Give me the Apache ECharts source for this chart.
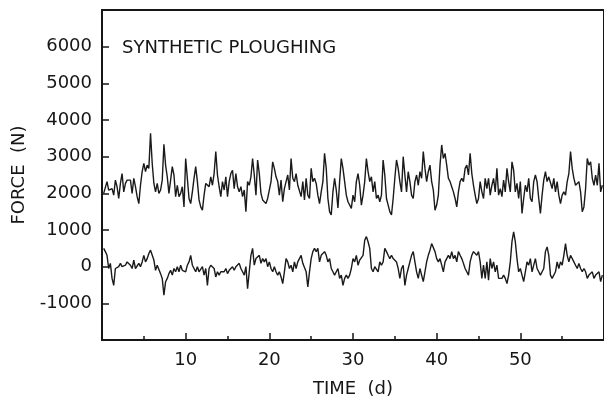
<!DOCTYPE html>
<html><head><meta charset="utf-8">
<script src="https://cdn.jsdelivr.net/npm/echarts@6/dist/echarts.min.js"></script>
<style>html,body{margin:0;padding:0;background:#fff}#c{width:604px;height:406px}</style>
</head><body><div id="c"></div>
<script>
const chartTitle = 'SYNTHETIC PLOUGHING';
const xName = 'TIME  (d)';
const yName = 'FORCE  (N)';
const firstDay = 0.2, dayStep = 0.2;
const upperForce = [
 2000,1950,2320,2090,2090,2130,1950,2360,2180,1860,2270,2540,2040,2270,2360,2320,2360,2000,2410,2180,1910,1720,2220,2590,2820,2590,2770,2680,3640,2820,2270,2040,2270,2000,2090,2360,3340,2770,2450,2000,2360,2730,2500,1910,2220,1910,2000,2180,1630,2950,2410,1860,1720,2040,2410,2730,2320,1820,
 1630,1540,1950,2270,2220,2180,2450,2220,2540,3140,2500,2180,1910,2320,2090,2450,1910,2320,2540,2630,2130,2540,2180,2040,2180,1910,2090,1500,2320,2220,2450,2950,2500,1950,2910,2540,2000,1820,1860,1720,1860,1910,2320,2860,2680,2450,2320,1950,2360,1770,2130,2320,2500,2090,2950,2410,2320,2540,2220,
 2220,1910,2320,1820,2410,1950,1860,2680,2320,2410,2270,1950,1720,2040,2320,3090,2680,1860,1500,1410,2040,2410,2090,1600,2320,2950,2680,2320,1950,1770,1770,1590,1950,1770,2320,2540,2220,1680,1950,2320,2950,2590,2320,2450,2040,2320,1860,1950,1770,1950,2910,2500,1860,1680,1500,1410,1860,2410,2910,2680,
 2320,2040,3000,2500,2040,2590,2320,1950,1860,2320,2500,2220,2590,2410,3140,2680,2320,2590,2770,2320,2090,1540,1680,1950,2770,3320,2950,3090,2770,2410,2320,2180,2040,1860,1630,2040,2320,2410,2320,2680,2770,2500,3090,2540,2220,1950,1720,1860,2320,2040,1860,2410,2130,2410,1950,2220,2410,2040,2680,
 1950,2130,1910,2360,2040,2680,2320,2040,2860,2630,2040,2270,1860,2320,1450,1860,2220,2040,2410,1860,1770,2320,2500,2320,1860,1450,1950,2360,2590,2320,2450,2500,2130,2410,2040,2320,1950,1720,1950,2040,1950,2320,2540,3140,2680,2410,2220,2180,2320,2040,1500,1630,2130,2950,2770,2860,2410,2220,2500,2220,2820,2040,2220
];
const lowerForce = [
 500,410,310,-50,90,-320,-510,-50,-100,0,90,0,40,40,130,180,40,-50,180,-50,-100,90,0,130,310,130,220,360,450,410,180,-100,40,40,-190,-320,-780,-410,-320,-190,-100,-230,-50,-140,0,-140,40,-100,-50,-140,40,130,310,40,-50,-140,0,-140,
 -140,0,-230,-50,-510,-50,40,0,-50,-280,-140,-230,-140,-190,-140,-50,-190,-100,-140,0,-100,0,-50,90,-50,-140,-230,0,-600,-140,310,500,40,220,220,310,90,220,130,220,0,130,-50,-140,0,-140,-230,-140,-280,-460,-140,220,130,-50,40,-140,130,-50,130,
 220,310,90,130,-140,-550,-140,220,410,500,410,500,130,310,310,410,310,130,220,-50,-140,-230,-140,-50,-320,-230,-510,-320,-230,-320,-230,-50,220,130,310,40,180,130,310,720,820,680,500,-50,-140,0,40,-140,130,40,130,500,410,310,220,310,220,220,130,-50,
 -320,-50,40,-510,-230,-50,130,310,410,130,-140,-320,-50,-230,-410,-140,130,310,450,630,590,410,220,130,220,40,-140,130,220,310,220,410,220,310,130,410,310,220,90,-50,-140,-230,130,310,410,450,310,410,130,-320,40,-320,130,-370,220,-50,130,-140,40,
 -320,-280,-320,-230,-320,-460,-230,130,680,950,680,220,-140,-50,-230,-410,-140,130,40,220,-140,40,220,-50,-140,-230,-140,-50,410,540,310,-230,-320,-370,-140,130,-50,130,40,310,630,310,130,310,360,130,40,-50,90,-50,-140,-50,-140,-320,-230,-280,-140,-320,-230,-230,-140,-410,-230
];
const days = upperForce.map((_, i) => +(firstDay + i * dayStep).toFixed(1));

const font = 'DejaVu Sans';
const ink = '#161616';
const plain = v => String(v);
const chart = echarts.init(document.getElementById('c'), null, {renderer: 'canvas'});
chart.setOption({
  animation: false,
  backgroundColor: '#ffffff',
  title: {
    text: chartTitle, left: 117, top: 34,
    textStyle: {fontFamily: font, fontSize: 18, fontWeight: 'normal', color: ink}
  },
  grid: {left: 102, right: -2, top: 10, bottom: 66, show: true, borderColor: ink, borderWidth: 2, backgroundColor: 'transparent'},
  xAxis: {
    type: 'value', min: 0, max: 60, interval: 10,
    name: xName, nameLocation: 'middle', nameGap: 40,
    nameTextStyle: {fontFamily: font, fontSize: 18, color: ink},
    axisLine: {show: true, onZero: false, lineStyle: {color: ink, width: 2}},
    axisTick: {show: true, inside: true, length: 7, lineStyle: {color: ink, width: 1.5}},
    minorTick: {show: true, splitNumber: 2, length: 4, lineStyle: {color: ink, width: 1.5}},
    axisLabel: {showMinLabel: false, showMaxLabel: false, margin: 11, formatter: plain, fontFamily: font, fontSize: 18, color: ink},
    splitLine: {show: false}, minorSplitLine: {show: false}
  },
  yAxis: {
    type: 'value', min: -2000, max: 7000, interval: 1000,
    name: yName, nameLocation: 'middle', nameGap: 70, nameRotate: 90,
    nameTextStyle: {fontFamily: font, fontSize: 18, color: ink},
    axisLine: {show: true, onZero: false, lineStyle: {color: ink, width: 2}},
    axisTick: {show: true, inside: true, length: 7, lineStyle: {color: ink, width: 1.5}},
    axisLabel: {showMinLabel: false, showMaxLabel: false, margin: 10, formatter: plain, fontFamily: font, fontSize: 18, color: ink},
    splitLine: {show: false}
  },
  series: [
    {type: 'line', data: days.map((d, i) => [d, upperForce[i]]), showSymbol: false, symbol: 'none',
     lineStyle: {color: '#1a1a1a', width: 1.4}},
    {type: 'line', data: days.map((d, i) => [d, lowerForce[i]]), showSymbol: false, symbol: 'none',
     lineStyle: {color: '#1a1a1a', width: 1.4}}
  ]
});
</script>
</body></html>
